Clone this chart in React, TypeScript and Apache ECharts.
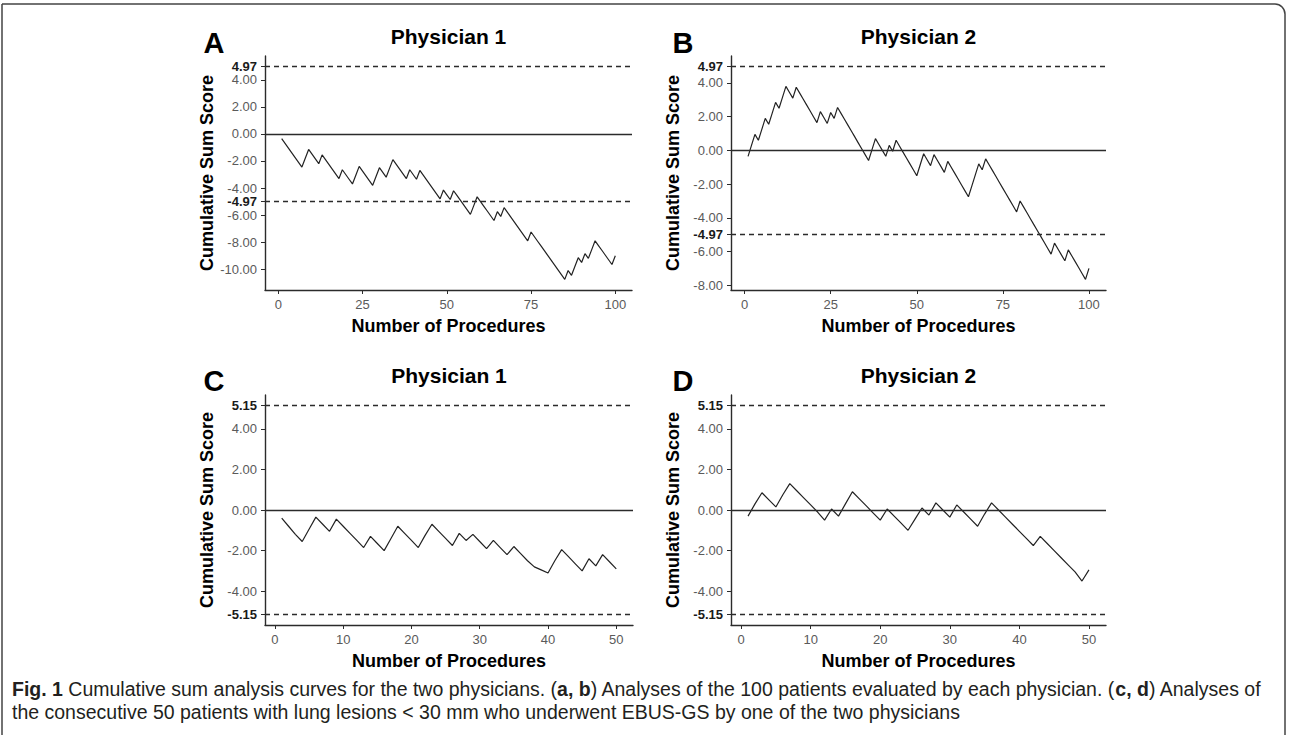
import React, { useEffect, useRef } from "react";
import * as echarts from "echarts";

// ---------- DATA ----------
const PANEL_A_VALUES = [
  -0.35, -0.7, -1.05, -1.4, -1.75, -2.1, -2.45, -1.8, -1.15, -1.5,
  -1.85, -2.2, -1.55, -1.9, -2.25, -2.6, -2.95, -3.3, -2.65, -3.0,
  -3.35, -3.7, -3.05, -2.4, -2.75, -3.1, -3.45, -3.8, -3.15, -2.5,
  -2.85, -3.2, -2.55, -1.9, -2.25, -2.6, -2.95, -3.3, -2.65, -3.0,
  -3.35, -2.7, -3.05, -3.4, -3.75, -4.1, -4.45, -4.8, -4.15, -4.5,
  -4.85, -4.2, -4.55, -4.9, -5.25, -5.6, -5.95, -5.3, -4.65, -5.0,
  -5.35, -5.7, -6.05, -6.4, -5.75, -6.1, -5.45, -5.8, -6.15, -6.5,
  -6.85, -7.2, -7.55, -7.9, -7.25, -7.6, -7.95, -8.3, -8.65, -9.0,
  -9.35, -9.7, -10.05, -10.4, -10.75, -10.1, -10.45, -9.8, -9.15, -9.5,
  -8.85, -9.2, -8.55, -7.9, -8.25, -8.6, -8.95, -9.3, -9.65, -9.0,
];
const PANEL_B_VALUES = [
  -0.35, 0.3, 0.95, 0.6, 1.25, 1.9, 1.55, 2.2, 2.85, 2.5,
  3.15, 3.8, 3.45, 3.1, 3.75, 3.4, 3.05, 2.7, 2.35, 2.0,
  1.65, 2.3, 1.95, 1.6, 2.25, 1.9, 2.55, 2.2, 1.85, 1.5,
  1.15, 0.8, 0.45, 0.1, -0.25, -0.6, 0.05, 0.7, 0.35, 0.0,
  -0.35, 0.3, -0.05, 0.6, 0.25, -0.1, -0.45, -0.8, -1.15, -1.5,
  -0.85, -0.2, -0.55, -0.9, -0.25, -0.6, -0.95, -1.3, -0.65, -1.0,
  -1.35, -1.7, -2.05, -2.4, -2.75, -2.1, -1.45, -0.8, -1.15, -0.5,
  -0.85, -1.2, -1.55, -1.9, -2.25, -2.6, -2.95, -3.3, -3.65, -3.0,
  -3.35, -3.7, -4.05, -4.4, -4.75, -5.1, -5.45, -5.8, -6.15, -5.5,
  -5.85, -6.2, -6.55, -5.9, -6.25, -6.6, -6.95, -7.3, -7.65, -7.0,
];
const PANEL_C_VALUES = [
  -0.4, -0.8, -1.2, -1.55, -0.95, -0.35, -0.7, -1.05, -0.45, -0.8,
  -1.15, -1.5, -1.85, -1.3, -1.65, -2.0, -1.4, -0.8, -1.15, -1.5,
  -1.85, -1.25, -0.7, -1.05, -1.4, -1.75, -1.15, -1.5, -1.2, -1.55,
  -1.9, -1.5, -1.85, -2.2, -1.8, -2.15, -2.5, -2.8, -2.95, -3.1,
  -2.5, -1.95, -2.3, -2.65, -3.0, -2.4, -2.75, -2.2, -2.55, -2.9,
];
const PANEL_D_VALUES = [
  -0.3, 0.3, 0.85, 0.5, 0.15, 0.75, 1.3, 0.95, 0.6, 0.25,
  -0.1, -0.5, 0.05, -0.3, 0.3, 0.9, 0.55, 0.2, -0.15, -0.5,
  0.05, -0.3, -0.65, -1.0, -0.45, 0.1, -0.25, 0.35, 0.0, -0.35,
  0.25, -0.1, -0.45, -0.8, -0.2, 0.35, 0.0, -0.35, -0.7, -1.05,
  -1.4, -1.75, -1.3, -1.65, -2.0, -2.35, -2.7, -3.05, -3.5, -2.95,
];

const LIMIT_AB = 4.97;
const LIMIT_CD = 5.15;
const Y_TICKS_A = [4.97, 4, 2, 0, -2, -4, -4.97, -6, -8, -10];
const Y_TICKS_B = [4.97, 4, 2, 0, -2, -4, -4.97, -6, -8];
const Y_TICKS_CD = [5.15, 4, 2, 0, -2, -4, -5.15];
const X_TICKS_100 = [0, 25, 50, 75, 100];
const X_TICKS_50 = [0, 10, 20, 30, 40, 50];

const TITLES = ["Physician 1", "Physician 2", "Physician 1", "Physician 2"];
const LETTERS = ["A", "B", "C", "D"];
const X_NAME = "Number of Procedures";
const Y_NAME = "Cumulative Sum Score";
const CAPTION_1 =
  "{b|Fig. 1} Cumulative sum analysis curves for the two physicians. ({b|a, b}) Analyses of the 100 patients evaluated by each physician. ({b|c, d}) Analyses of";
const CAPTION_2 =
  "the consecutive 50 patients with lung lesions < 30 mm who underwent EBUS-GS by one of the two physicians";

// ---------- LAYOUT ----------
const GRIDS = [
  { left: 265, top: 56, width: 367, height: 234 },
  { left: 731, top: 56, width: 375, height: 234 },
  { left: 265, top: 395, width: 368, height: 230 },
  { left: 731, top: 395, width: 375, height: 230 },
];
const LETTER_POS = [
  [214, 43],
  [683, 43],
  [214, 381],
  [683, 381],
];

const FONT = "'Liberation Sans', Arial, sans-serif";
const INK = "#2b2b2b";

function expandRange(lo: number, hi: number) {
  const d = (hi - lo) * 0.05;
  return [lo - d, hi + d];
}

export default function App() {
  const ref = useRef<HTMLDivElement>(null);
  useEffect(() => {
    if (!ref.current) return;
    const chart = echarts.init(ref.current, undefined, { renderer: "svg" });

    const panels = [
      { values: PANEL_A_VALUES, limit: LIMIT_AB, yTicks: Y_TICKS_A, xTicks: X_TICKS_100 },
      { values: PANEL_B_VALUES, limit: LIMIT_AB, yTicks: Y_TICKS_B, xTicks: X_TICKS_100 },
      { values: PANEL_C_VALUES, limit: LIMIT_CD, yTicks: Y_TICKS_CD, xTicks: X_TICKS_50 },
      { values: PANEL_D_VALUES, limit: LIMIT_CD, yTicks: Y_TICKS_CD, xTicks: X_TICKS_50 },
    ];

    const grid: any[] = [];
    const xAxis: any[] = [];
    const yAxis: any[] = [];
    const series: any[] = [];
    const graphic: any[] = [];

    panels.forEach((p, i) => {
      const n = p.values.length;
      const [xmin, xmax] = expandRange(1, n);
      const [ymin, ymax] = expandRange(
        Math.min(-p.limit, ...p.values),
        Math.max(p.limit, ...p.values)
      );
      grid.push({ ...GRIDS[i], containLabel: false });
      xAxis.push({
        type: "value",
        gridIndex: i,
        min: xmin,
        max: xmax,
        splitLine: { show: false },
        axisLine: { show: true, onZero: false, lineStyle: { color: INK, width: 1.4 } },
        axisTick: {
          show: true,
          customValues: p.xTicks,
          length: 4,
          lineStyle: { color: INK, width: 1 },
        },
        axisLabel: {
          customValues: p.xTicks,
          color: "#5a5a5a",
          fontSize: 13,
          fontFamily: FONT,
          margin: 8,
        },
        name: X_NAME,
        nameLocation: "middle",
        nameGap: 27,
        nameTextStyle: { color: "#000", fontSize: 18, fontWeight: "bold", fontFamily: FONT },
      });
      yAxis.push({
        type: "value",
        gridIndex: i,
        min: ymin,
        max: ymax,
        splitLine: { show: false },
        axisLine: { show: true, onZero: false, lineStyle: { color: INK, width: 1.4 } },
        axisTick: {
          show: true,
          customValues: p.yTicks,
          length: 4,
          lineStyle: { color: INK, width: 1 },
        },
        axisLabel: {
          customValues: p.yTicks,
          color: "#5a5a5a",
          fontSize: 13,
          fontFamily: FONT,
          margin: 8,
          formatter: (v: number) => {
            const s = v.toFixed(2);
            return Math.abs(Math.abs(v) - p.limit) < 1e-6 ? "{t|" + s + "}" : s;
          },
          rich: {
            t: { color: "#1a1a1a", fontWeight: "bold", fontSize: 13, fontFamily: FONT },
          },
        },
        name: Y_NAME,
        nameLocation: "middle",
        nameGap: 49,
        nameRotate: 90,
        nameTextStyle: { color: "#000", fontSize: 18, fontWeight: "bold", fontFamily: FONT },
      });
      series.push({
        type: "line",
        xAxisIndex: i,
        yAxisIndex: i,
        data: p.values.map((v, k) => [k + 1, v]),
        showSymbol: false,
        symbol: "none",
        lineStyle: { color: "#222", width: 1.2 },
        z: 3,
        markLine: {
          silent: true,
          symbol: ["none", "none"],
          label: { show: false },
          lineStyle: { color: INK, width: 1.3 },
          data: [
            { yAxis: p.limit, lineStyle: { type: [5, 4], color: INK, width: 1.3 } },
            { yAxis: -p.limit, lineStyle: { type: [5, 4], color: INK, width: 1.3 } },
            { yAxis: 0, lineStyle: { type: "solid", color: INK, width: 1.3 } },
          ],
        },
      });
      const g = GRIDS[i];
      graphic.push({
        type: "text",
        x: g.left + g.width / 2,
        y: g.top - 20,
        style: {
          text: TITLES[i],
          fontSize: 21,
          fontWeight: "bold",
          fontFamily: FONT,
          fill: "#000",
          align: "center",
          verticalAlign: "middle",
        },
      });
      graphic.push({
        type: "text",
        x: LETTER_POS[i][0],
        y: LETTER_POS[i][1],
        style: {
          text: LETTERS[i],
          fontSize: 29,
          fontWeight: "bold",
          fontFamily: FONT,
          fill: "#000",
          align: "center",
          verticalAlign: "middle",
        },
      });
    });

    graphic.push({
      type: "rect",
      shape: { x: 2, y: 4, width: 1283, height: 760, r: [0, 10, 0, 0] },
      style: { fill: "none", stroke: "#444", lineWidth: 1.5 },
      silent: true,
    });
    const CAP_SIZE = 19.5;
    const capStyle = { fontSize: CAP_SIZE, fontFamily: FONT, fill: "#231f20" };
    graphic.push({
      type: "text",
      x: 12,
      y: 689,
      style: {
        ...capStyle,
        text: CAPTION_1,
        verticalAlign: "middle",
        rich: { b: { fontSize: CAP_SIZE, fontFamily: FONT, fontWeight: "bold", fill: "#231f20" } },
      },
    });
    graphic.push({
      type: "text",
      x: 12,
      y: 712,
      style: { ...capStyle, text: CAPTION_2, verticalAlign: "middle" },
    });

    chart.setOption({
      animation: false,
      backgroundColor: "#fff",
      grid,
      xAxis,
      yAxis,
      series,
      graphic,
    });
    return () => chart.dispose();
  }, []);

  return (
    <div
      ref={ref}
      style={{ position: "absolute", left: 0, top: 0, width: 1290, height: 735, background: "#fff" }}
    />
  );
}
